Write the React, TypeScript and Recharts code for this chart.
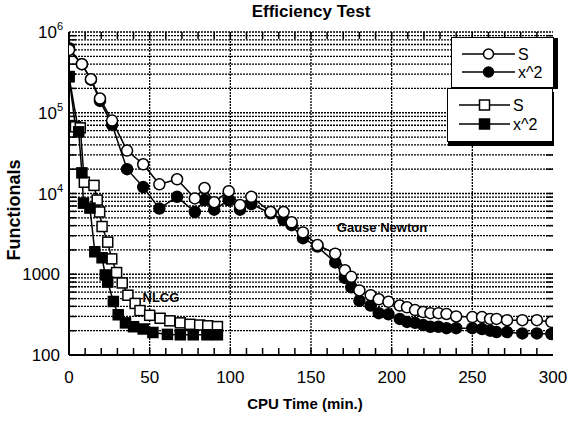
import React from 'react';
import { LineChart, Line, XAxis, YAxis, CartesianGrid, ReferenceDot, ReferenceLine } from 'recharts';

// Gauss-Newton runs (time in minutes, functional value)
const gnTime = [0, 8, 13.6, 19.2, 26.7, 36, 46, 56, 67, 78, 84, 90, 99, 106, 113, 125, 133, 138, 145, 154, 165, 171, 175, 180, 187, 192, 198, 205, 209.5, 214.5, 219.5, 224, 229, 234, 240, 250, 256, 261, 265, 271.5, 281, 290, 299];
const gnS = [600000, 400000, 260000, 150000, 80000, 34000, 23000, 13000, 15000, 8700, 11700, 7800, 10700, 7200, 9100, 5900, 5900, 4400, 3300, 2300, 1800, 1120, 930, 630, 550, 490, 455, 410, 390, 360, 340, 330, 330, 322, 300, 295, 295, 280, 280, 270, 270, 270, 257];
const gnX2 = [630000, 400000, 257000, 140000, 71000, 20000, 12000, 6500, 9100, 5900, 8300, 6300, 8300, 6300, 7400, 5700, 4700, 4050, 2800, 2200, 1400, 900, 690, 470, 410, 330, 320, 280, 257, 250, 235, 224, 224, 215, 215, 215, 210, 200, 192, 192, 185, 185, 182];

// NLCG runs
const cgTimeS = [0, 4, 7, 9.5, 15.5, 17.5, 19, 20.5, 24, 26.5, 29.5, 33, 36.5, 41, 44, 50, 56.5, 62.5, 69, 75, 81, 86, 92];
const cgS = [280000, 67000, 65000, 13800, 12600, 8300, 5900, 3900, 2500, 1550, 1050, 780, 550, 435, 355, 310, 285, 265, 250, 240, 235, 230, 225];
const cgTimeX2 = [0, 6, 8, 9, 13, 16, 20.5, 22.5, 24, 27.5, 30.5, 35, 40, 46, 52, 61, 69, 77, 85.5, 92];
const cgX2 = [280000, 58000, 18000, 7600, 6600, 1900, 1600, 980, 800, 460, 315, 250, 224, 210, 190, 180, 178, 178, 178, 178];

const xLabelTicks = [0, 50, 100, 150, 200, 250, 300];
const xGridLines = [50, 100, 150, 200, 250];
const xMinorTicks = [10, 20, 30, 40, 50, 60, 70, 80, 90, 100, 110, 120, 130, 140, 150, 160, 170, 180, 190, 200, 210, 220, 230, 240, 250, 260, 270, 280, 290];
const yLabelTicks = [100, 1000, 10000, 100000, 1000000];
const yMinorTicks = [
  200, 300, 400, 500, 600, 700, 800, 900,
  1000, 2000, 3000, 4000, 5000, 6000, 7000, 8000, 9000,
  10000, 20000, 30000, 40000, 50000, 60000, 70000, 80000, 90000,
  100000, 200000, 300000, 400000, 500000, 600000, 700000, 800000, 900000,
];

const pair = (ts: number[], vs: number[]) => ts.map((t, i) => ({ t, v: vs[i] }));
const gnSData = pair(gnTime, gnS);
const gnX2Data = pair(gnTime, gnX2);
const cgSData = pair(cgTimeS, cgS);
const cgX2Data = pair(cgTimeX2, cgX2);

const FONT = '"Liberation Sans", Arial, Helvetica, sans-serif';
const X_DOMAIN: [number, number] = [0, 300];
const Y_DOMAIN: [number, number] = [100, 1000000];

// plot box is 484 px wide; inward tick marks are ~7px long
const PLOT_W = 484;
const TICK_PX = 7;
const tickDx = (TICK_PX * (X_DOMAIN[1] - X_DOMAIN[0])) / PLOT_W;

const NoLabel = () => <g />;

const YTick = ({ x, y, payload }: any) => {
  const v = payload.value;
  if (v >= 10000) {
    const exp = Math.round(Math.log10(v));
    return (
      <text x={x + 3} y={y} dy={6} textAnchor="end" fontSize={17} fontFamily={FONT} fill="#000">
        10<tspan dy={-8} fontSize={11}>{exp}</tspan>
      </text>
    );
  }
  return (
    <text x={x} y={y} dy={6} textAnchor="end" fontSize={17} fontFamily={FONT} fill="#000">
      {v}
    </text>
  );
};

const XTick = ({ x, y, payload }: any) => (
  <text x={x} y={y} dy={12} textAnchor="middle" fontSize={17} fontFamily={FONT} fill="#000">
    {payload.value}
  </text>
);

// short inward marks at both ends of a vertical reference line
const EdgeTicks = (p: any) => {
  const top = Math.min(p.y1, p.y2);
  const bottom = Math.max(p.y1, p.y2);
  return (
    <g>
      <line x1={p.x1} x2={p.x1} y1={top} y2={top + TICK_PX} stroke="#000" strokeWidth={1.5} />
      <line x1={p.x1} x2={p.x1} y1={bottom} y2={bottom - TICK_PX} stroke="#000" strokeWidth={1.5} />
    </g>
  );
};

const squareDot = (filled: boolean) => (p: any) => (
  <rect
    key={`sq-${filled}-${p.index}`}
    x={p.cx - 5}
    y={p.cy - 5}
    width={10}
    height={10}
    fill={filled ? '#000' : '#fff'}
    stroke="#000"
    strokeWidth={1.5}
  />
);

const textMark = (txt: string) => (p: any) => (
  <text
    x={p.cx}
    y={p.cy}
    dy={5}
    textAnchor="middle"
    fontSize={13}
    fontWeight="bold"
    fontFamily={FONT}
    fill="#000"
  >
    {txt}
  </text>
);

const LegendBox = ({ left, top, width, height, shadow, lineX1, lineX2, rows, square }: any) => (
  <div
    style={{
      position: 'absolute',
      left,
      top,
      width,
      height,
      background: '#fff',
      border: '1.5px solid #000',
      boxShadow: shadow,
      boxSizing: 'border-box',
    }}
  >
    <svg width={width} height={height} style={{ position: 'absolute', left: -1.5, top: -1.5 }}>
      {rows.map((r: any, i: number) => {
        const mx = (lineX1 + lineX2) / 2;
        return (
          <g key={i}>
            <line x1={lineX1} x2={lineX2} y1={r.y} y2={r.y} stroke="#000" strokeWidth={1.5} />
            {square ? (
              <rect x={mx - 5} y={r.y - 5} width={10} height={10} fill={r.filled ? '#000' : '#fff'} stroke="#000" strokeWidth={1.5} />
            ) : (
              <circle cx={mx} cy={r.y} r={5} fill={r.filled ? '#000' : '#fff'} stroke="#000" strokeWidth={1.5} />
            )}
            <text x={lineX2 + 3} y={r.y + 6} fontSize={16} fontFamily={FONT} fill="#000">
              {r.label}
            </text>
          </g>
        );
      })}
    </svg>
  </div>
);

const tickLineProps = {
  xAxisId: 'main',
  yAxisId: 'main',
  stroke: '#000',
  strokeWidth: 1.5,
  ifOverflow: 'visible' as const,
};

export default function App() {
  return (
    <div style={{ position: 'absolute', left: 0, top: 0, width: 574, height: 421, background: '#fff', fontFamily: FONT }}>
      <LineChart width={574} height={421} margin={{ top: 32, right: 21, left: 0, bottom: 0 }}>
        <CartesianGrid
          xAxisId="main"
          yAxisId="grid"
          vertical={false}
          stroke="#000"
          strokeWidth={1.3}
          strokeDasharray="2 1"
        />
        {xGridLines.map((v) => (
          <ReferenceLine
            key={`g${v}`}
            xAxisId="main"
            yAxisId="main"
            x={v}
            stroke="#000"
            strokeWidth={1.3}
            strokeDasharray="2 1"
          />
        ))}

        {/* inward tick marks on all four sides of the frame */}
        {xMinorTicks.map((t) => (
          <ReferenceLine key={`tb${t}`} xAxisId="main" yAxisId="main" x={t} shape={EdgeTicks} />
        ))}
        {yMinorTicks.map((v) => (
          <ReferenceLine key={`l${v}`} {...tickLineProps} segment={[{ x: X_DOMAIN[0], y: v }, { x: X_DOMAIN[0] + tickDx, y: v }]} />
        ))}
        {yMinorTicks.map((v) => (
          <ReferenceLine key={`r${v}`} {...tickLineProps} segment={[{ x: X_DOMAIN[1], y: v }, { x: X_DOMAIN[1] - tickDx, y: v }]} />
        ))}

        <XAxis
          xAxisId="main"
          dataKey="t"
          type="number"
          domain={X_DOMAIN}
          ticks={xLabelTicks}
          interval={0}
          allowDataOverflow
          height={66}
          tickLine={false}
          tickSize={0}
          tickMargin={16}
          tick={<XTick />}
          axisLine={{ stroke: '#000', strokeWidth: 2 }}
        />
        <XAxis
          xAxisId="top"
          orientation="top"
          type="number"
          domain={X_DOMAIN}
          height={0}
          tick={false}
          tickLine={false}
          axisLine={{ stroke: '#000', strokeWidth: 2 }}
        />
        <YAxis
          yAxisId="main"
          scale="log"
          type="number"
          domain={Y_DOMAIN}
          ticks={yLabelTicks}
          interval={0}
          allowDataOverflow
          width={69}
          tickLine={false}
          tickSize={0}
          tickMargin={9}
          tick={<YTick />}
          axisLine={{ stroke: '#000', strokeWidth: 2 }}
        />
        <YAxis
          yAxisId="grid"
          scale="log"
          type="number"
          domain={Y_DOMAIN}
          ticks={yMinorTicks}
          interval={0}
          allowDataOverflow
          mirror
          tick={<NoLabel />}
          tickLine={false}
          axisLine={false}
        />
        <YAxis
          yAxisId="right"
          orientation="right"
          scale="log"
          type="number"
          domain={Y_DOMAIN}
          width={0}
          tick={false}
          tickLine={false}
          axisLine={{ stroke: '#000', strokeWidth: 2 }}
        />

        <Line
          xAxisId="main"
          yAxisId="main"
          data={cgSData}
          dataKey="v"
          stroke="#000"
          strokeWidth={1.5}
          dot={squareDot(false)}
          isAnimationActive={false}
        />
        <Line
          xAxisId="main"
          yAxisId="main"
          data={cgX2Data}
          dataKey="v"
          stroke="#000"
          strokeWidth={1.5}
          dot={squareDot(true)}
          isAnimationActive={false}
        />
        <Line
          xAxisId="main"
          yAxisId="main"
          data={gnX2Data}
          dataKey="v"
          stroke="#000"
          strokeWidth={1.5}
          dot={{ r: 5.5, fill: '#000', stroke: '#000', strokeWidth: 1.5 }}
          isAnimationActive={false}
        />
        <Line
          xAxisId="main"
          yAxisId="main"
          data={gnSData}
          dataKey="v"
          stroke="#000"
          strokeWidth={1.5}
          dot={{ r: 5.5, fill: '#fff', stroke: '#000', strokeWidth: 1.5 }}
          isAnimationActive={false}
        />

        <ReferenceDot xAxisId="main" yAxisId="main" x={194} y={3850} r={0} shape={textMark('Gause Newton')} />
        <ReferenceDot xAxisId="main" yAxisId="main" x={57} y={522} r={0} shape={textMark('NLCG')} />
      </LineChart>

      <svg width={574} height={421} style={{ position: 'absolute', left: 0, top: 0, pointerEvents: 'none' }}>
        <text x={311} y={17} textAnchor="middle" fontSize={17} fontWeight="bold" fontFamily={FONT}>
          Efficiency Test
        </text>
        <text x={305} y={409} textAnchor="middle" fontSize={15} fontWeight="bold" fontFamily={FONT}>
          CPU Time (min.)
        </text>
        <text
          transform="translate(20,210) rotate(-90)"
          textAnchor="middle"
          fontSize={18}
          fontWeight="bold"
          fontFamily={FONT}
        >
          Functionals
        </text>
      </svg>

      <LegendBox
        left={451}
        top={37}
        width={103}
        height={51}
        shadow="4px 1px 0 #000"
        lineX1={11}
        lineX2={64}
        square={false}
        rows={[
          { y: 17, label: 'S', filled: false },
          { y: 35, label: 'x^2', filled: true },
        ]}
      />
      <LegendBox
        left={447}
        top={88}
        width={106}
        height={54}
        shadow="1px 4px 0 #000"
        lineX1={12}
        lineX2={63}
        square
        rows={[
          { y: 17, label: 'S', filled: false },
          { y: 36, label: 'x^2', filled: true },
        ]}
      />
    </div>
  );
}
